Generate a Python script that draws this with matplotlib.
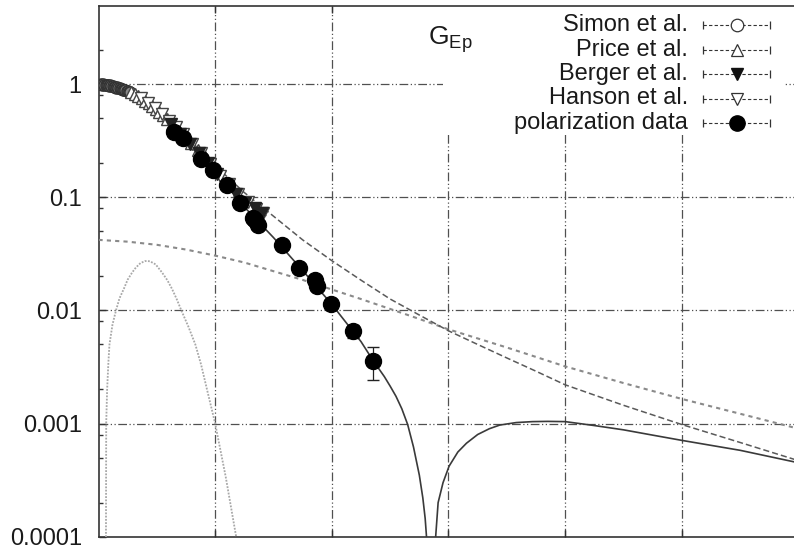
import numpy as np
import matplotlib
matplotlib.use("Agg")
import matplotlib.pyplot as plt
from matplotlib.ticker import LogLocator, NullFormatter, FixedLocator, NullLocator

plt.rcParams['font.family'] = ['Liberation Sans', 'DejaVu Sans']
plt.rcParams['mathtext.fontset'] = 'custom'
plt.rcParams['mathtext.rm'] = 'Liberation Sans'
plt.rcParams['mathtext.it'] = 'Liberation Sans:italic'

# ---------------- data (Q in GeV, G_Ep) ----------------
simon_q = [0.02, 0.03, 0.04, 0.05, 0.06, 0.07, 0.08, 0.09, 0.10, 0.11, 0.12, 0.13, 0.14, 0.15, 0.16, 0.17,
           0.18, 0.19, 0.20, 0.21, 0.22, 0.23, 0.24, 0.25, 0.26, 0.27]
simon_g = [1.0, 0.99, 1.0, 0.985, 0.99, 0.975, 0.985, 0.965, 0.975, 0.955, 0.96, 0.945, 0.95, 0.93, 0.935, 0.92,
           0.92, 0.905, 0.91, 0.895, 0.89, 0.88, 0.875, 0.865, 0.86, 0.845]

price_q = [0.28, 0.31, 0.34, 0.37, 0.40, 0.43, 0.46, 0.49, 0.52, 0.55, 0.59, 0.63, 0.68, 0.73, 0.79, 0.85, 0.91, 0.97]
price_g = [0.86, 0.82, 0.79, 0.76, 0.71, 0.68, 0.64, 0.60, 0.565, 0.53, 0.49, 0.445, 0.395, 0.35, 0.30, 0.26, 0.225, 0.195]

berger_q = [0.62, 0.70, 0.78, 0.86, 0.94, 1.02, 1.10, 1.18, 1.26, 1.34, 1.40]
berger_g = [0.445, 0.365, 0.295, 0.245, 0.20, 0.16, 0.127, 0.106, 0.089, 0.080, 0.073]

hanson_q = [0.36, 0.42, 0.48, 0.54, 0.60, 0.66, 0.72, 0.80, 0.88, 0.96, 1.04, 1.12, 1.20, 1.28, 1.35, 1.41]
hanson_g = [0.75, 0.68, 0.61, 0.54, 0.47, 0.415, 0.36, 0.295, 0.245, 0.195, 0.155, 0.13, 0.106, 0.09, 0.079, 0.073]

pol_q = [0.645, 0.722, 0.875, 0.983, 1.098, 1.212, 1.326, 1.345, 1.369, 1.569, 1.720, 1.854, 1.874, 1.997, 2.182, 2.354]
pol_g = [0.379, 0.331, 0.22, 0.174, 0.128, 0.0883, 0.0649, 0.063, 0.0568, 0.0378, 0.0235, 0.01875, 0.01643, 0.0114, 0.00658, 0.0036]
pol_err = [0.01, 0.01, 0.006, 0.005, 0.004, 0.003, 0.002, 0.002, 0.002, 0.0015, 0.0012, 0.0012, 0.0012, 0.0011, 0.0009, 0.00118]

# fit curve (solid), |G_Ep| with zero crossing
fit_q = [0.0, 0.25, 0.5, 0.65, 0.75, 1.0, 1.25, 1.5, 1.75, 2.0, 2.25, 2.354, 2.45, 2.5, 2.55, 2.6, 2.65, 2.7, 2.75,
         2.78, 2.8, 2.81, 2.83, 2.85,
         2.87, 2.89, 2.911, 2.953, 3.005, 3.08, 3.154, 3.25, 3.35, 3.44, 3.58, 3.72, 3.85, 4.0, 4.25, 4.5, 4.75,
         5.0, 5.5, 6.0]
fit_g = [1.0, 0.88, 0.57, 0.385, 0.31, 0.168, 0.082, 0.044, 0.0225, 0.0113, 0.0053, 0.0036, 0.0026, 0.00214, 0.00174,
         0.00135, 0.00098, 0.00062, 0.00035, 0.00022, 0.000145, 0.000105, 5e-5, 1e-7,
         4e-5, 1e-4, 2.0e-4, 3.0e-4, 4.2e-4, 5.6e-4, 6.7e-4, 8.0e-4, 9.0e-4, 9.7e-4, 1.02e-3, 1.04e-3, 1.045e-3,
         1.04e-3, 9.6e-4, 8.8e-4, 7.9e-4, 7.1e-4, 5.8e-4, 4.5e-4]

# dashed curve
dash_q = [0.0, 0.25, 0.5, 0.75, 1.0, 1.25, 1.5, 1.75, 2.0, 2.25, 2.5, 2.75, 3.0, 3.25, 3.5, 3.75, 4.0, 4.5, 5.0, 5.5, 6.0]
dash_g = [1.0, 0.87, 0.62, 0.37, 0.19, 0.11, 0.068, 0.042, 0.0275, 0.0185, 0.0126, 0.0091, 0.0066, 0.0050, 0.0038, 0.0029,
          0.0022, 0.00145, 0.00098, 0.00068, 0.00047]

# dotted curve
dot_q = [0.0, 0.25, 0.5, 0.75, 1.0, 1.25, 1.5, 1.75, 2.0, 2.25, 2.5, 2.75, 3.0, 3.5, 4.0, 4.5, 5.0, 5.5, 6.0]
dot_g = [0.042, 0.0405, 0.038, 0.0345, 0.0305, 0.0265, 0.0222, 0.0186, 0.0153, 0.0126, 0.0103, 0.0084, 0.0068, 0.0047,
         0.0032, 0.00228, 0.00165, 0.00122, 0.0009]

# bell-shaped curve (light dotted)
bell_q = [0.062, 0.064, 0.066, 0.074, 0.085, 0.094, 0.12, 0.15, 0.18, 0.217, 0.25, 0.288, 0.32, 0.36, 0.40, 0.44,
          0.49, 0.545, 0.59, 0.63, 0.67, 0.71, 0.77, 0.83, 0.88, 0.93, 1.0, 1.09, 1.18, 1.25]
bell_g = [1e-6, 1e-4, 0.001, 0.002, 0.0035, 0.005, 0.0075, 0.01, 0.0128, 0.0155, 0.0187, 0.0216, 0.0239, 0.0262, 0.0273,
          0.0272, 0.0255, 0.0216, 0.0185, 0.0155, 0.0126, 0.01, 0.0072, 0.005, 0.0033, 0.002, 0.001, 0.00034, 0.0001, 0.00004]

ytick_vals = [0.0001, 0.001, 0.01, 0.1, 1]
ytick_labels = ["0.0001", "0.001", "0.01", "0.1", "1"]
xtick_vals = [1, 2, 3, 4, 5]

legend_labels = ["Simon et al.", "Price et al.", "Berger et al.", "Hanson et al.", "polarization data"]

# ---------------- layout ----------------
W, H = 794, 549
fig = plt.figure(figsize=(W / 100, H / 100), dpi=100)
L, R, T, B = 98.5, 798.5, 6.0, 536.7
ax = fig.add_axes([L / W, (H - B) / H, (R - L) / W, (B - T) / H])

def px(x, y):
    return ((x - L) / (R - L), (B - y) / (B - T))

ax.set_yscale('log')
ax.set_xlim(0, 6)
ax.set_ylim(1e-4, 4.9)

grid_style = (0, (7, 2, 1, 2, 1, 2))
gcol = '#505050'
for yv in ytick_vals[1:]:
    ax.axhline(yv, color=gcol, lw=0.9, ls=grid_style, zorder=1)
for xv in xtick_vals:
    ax.axvline(xv, color=gcol, lw=0.9, ls=grid_style, zorder=1)

# legend / key background box
ax.add_patch(plt.Rectangle(px(443, 133), (785 - 443) / (R - L), (133 - T) / (B - T),
                           transform=ax.transAxes, facecolor='white', edgecolor='none', zorder=2))

# curves
ax.plot(bell_q, bell_g, color='#a8a8a8', lw=1.3, ls=(0, (1, 0.8)), zorder=3)
ax.plot(dot_q, dot_g, color='#8a8a8a', lw=1.5, ls=(0, (2, 2)), zorder=3)
ax.plot(dash_q, dash_g, color='#5a5a5a', lw=1.1, ls=(0, (4, 2)), zorder=3)
ax.plot(fit_q, fit_g, color='#3a3a3a', lw=1.2, zorder=3)

# data
ekw = dict(ls='none', ecolor='#444444', elinewidth=0.8, capsize=2, zorder=4)
ax.errorbar(simon_q, simon_g, yerr=[0.02 * g for g in simon_g], marker='o', ms=8, mfc='#888888', mec='#333333', mew=1.0, **ekw)
ax.errorbar(price_q, price_g, yerr=[0.04 * g for g in price_g], marker='^', ms=8, mfc='white', mec='#444444', mew=1.0, **ekw)
ax.errorbar(hanson_q, hanson_g, yerr=[0.04 * g for g in hanson_g], marker='v', ms=8, mfc='white', mec='#444444', mew=1.0, **ekw)
ax.errorbar(berger_q, berger_g, yerr=[0.04 * g for g in berger_g], marker='v', ms=8, mfc='#222222', mec='#222222', **ekw)
ax.errorbar(pol_q, pol_g, yerr=pol_err, marker='o', ms=11.5, mfc='black', mec='black', ls='none',
            ecolor='#222222', elinewidth=0.9, capsize=4, zorder=5)

# axes style
for s in ['top', 'bottom', 'left']:
    ax.spines[s].set_color('#333333')
    ax.spines[s].set_linewidth(1.2)
ax.spines['right'].set_visible(False)

ax.yaxis.set_major_locator(FixedLocator(ytick_vals))
ax.set_yticklabels(ytick_labels)
ax.yaxis.set_minor_locator(LogLocator(base=10, subs=(2.0, 5.0, 8.0), numticks=20))
ax.yaxis.set_minor_formatter(NullFormatter())
ax.xaxis.set_major_locator(FixedLocator(xtick_vals))
ax.xaxis.set_minor_locator(NullLocator())
ax.tick_params(axis='y', which='major', direction='in', length=5, width=1, color='#333333',
               labelsize=17, labelcolor='#1a1a1a', pad=12)
ax.tick_params(axis='y', which='minor', direction='in', length=3, width=1, color='#333333')
ax.tick_params(axis='x', which='major', direction='in', length=5, width=1, color='#333333',
               top=True, bottom=True, labelbottom=False)

# G_Ep label
tx, ty = px(428, 45)
ax.text(tx, ty, r'$\mathrm{G}_{\mathrm{Ep}}$', transform=ax.transAxes, fontsize=19, ha='left', va='baseline',
        color='#1a1a1a', zorder=6)

# manual key
markers = [dict(marker='o', ms=9, mfc='white', mec='#333333', mew=0.9),
           dict(marker='^', ms=9, mfc='white', mec='#333333', mew=0.9),
           dict(marker='v', ms=9, mfc='#111111', mec='#111111'),
           dict(marker='v', ms=9, mfc='white', mec='#333333', mew=0.9),
           dict(marker='o', ms=11, mfc='black', mec='black')]
for i, lab in enumerate(legend_labels):
    yk = 25 + 24.5 * i
    x0, y0 = px(703, yk)
    x1, _ = px(770, yk)
    xm, _ = px(737, yk)
    ax.text(px(688, yk)[0], y0, lab, transform=ax.transAxes, fontsize=17, ha='right', va='center',
            color='#1a1a1a', zorder=6)
    ax.plot([x0, x1], [y0, y0], transform=ax.transAxes, color='#333333', lw=0.8, ls=(0, (3, 2)), zorder=6,
            clip_on=False)
    ax.plot([x0, x1], [y0, y0], transform=ax.transAxes, ls='none', marker='|', ms=6, mew=0.9, color='#333333',
            zorder=6, clip_on=False)
    ax.plot([xm], [y0], transform=ax.transAxes, ls='none', zorder=7, clip_on=False, **markers[i])

fig.savefig('out.png', dpi=100)
